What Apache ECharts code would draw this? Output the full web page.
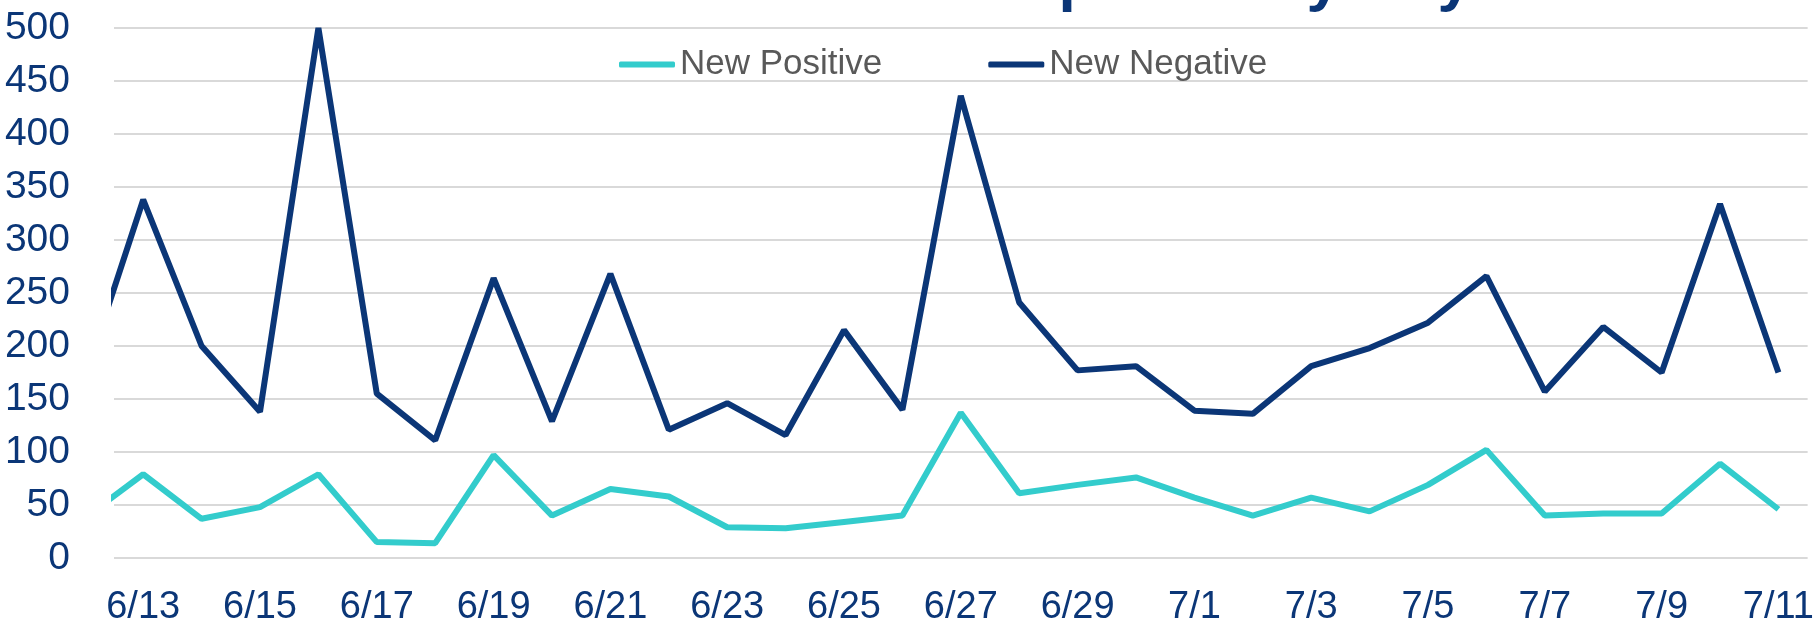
<!DOCTYPE html>
<html>
<head>
<meta charset="utf-8">
<script src="https://cdn.jsdelivr.net/npm/echarts@6/dist/echarts.min.js"></script>
<style>
  html, body { margin: 0; padding: 0; background: #fff; }
  #chart { width: 1817px; height: 627px; }
</style>
</head>
<body>
<div id="chart"></div>
<script>
// day labels, 6/12 is only partly inside the plot (clipped at the left edge)
const days = ['6/12', '6/13', '6/14', '6/15', '6/16', '6/17', '6/18', '6/19', '6/20', '6/21',
  '6/22', '6/23', '6/24', '6/25', '6/26', '6/27', '6/28', '6/29', '6/30', '7/1',
  '7/2', '7/3', '7/4', '7/5', '7/6', '7/7', '7/8', '7/9', '7/10', '7/11'];

const newPositive = [38, 79, 37, 48, 79, 15, 14, 97, 40, 65,
  58, 29, 28, 34, 40, 137, 61, 69, 76, 57,
  40, 57, 44, 69, 102, 40, 42, 42, 89, 46];

const newNegative = [170, 338, 200, 138, 500, 155, 111, 264, 129, 268,
  121, 146, 116, 215, 140, 436, 241, 177, 181, 139,
  136, 181, 198, 222, 266, 157, 218, 175, 334, 175];

// every other day gets a label: 6/13, 6/15 ... 7/11
const labelIdx = [1, 3, 5, 7, 9, 11, 13, 15, 17, 19, 21, 23, 25, 27, 29];

const navy = '#0b3677';
const teal = '#33cccc';
const font = "'Liberation Sans', Arial, sans-serif";

const chart = echarts.init(document.getElementById('chart'));

const option = {
  animation: false,
  title: {
    text: 'Test Results Reported by Day',
    left: 593,
    top: -54,
    textStyle: { color: navy, fontSize: 62, fontWeight: 'bold', fontFamily: font }
  },
  legend: {
    left: 614,
    top: 42,
    icon: 'roundRect',
    itemWidth: 56,
    itemHeight: 6,
    itemGap: 106,
    textStyle: { color: '#595959', fontSize: 35, fontFamily: font },
    data: ['New Positive', 'New Negative']
  },
  grid: {
    left: 114,
    right: 6,
    top: 28,
    bottom: 67,
    containLabel: false
  },
  xAxis: {
    type: 'value',
    min: 0.5,
    max: 29.5,
    axisLine: { show: false },
    axisTick: { show: false },
    splitLine: { show: false },
    axisLabel: {
      customValues: labelIdx,
      formatter: v => days[v],
      color: navy,
      fontSize: 38,
      fontFamily: font,
      margin: 31
    }
  },
  yAxis: {
    type: 'value',
    min: 0,
    max: 500,
    interval: 50,
    axisLine: { show: false },
    axisTick: { show: false },
    axisLabel: {
      color: navy,
      fontSize: 39,
      fontFamily: font,
      margin: 44
    },
    splitLine: {
      lineStyle: { color: '#d9d9d9', width: 2 }
    }
  },
  series: [
    {
      name: 'New Positive',
      type: 'line',
      showSymbol: false,
      clip: true,
      color: teal,
      lineStyle: { color: teal, width: 6 },
      data: newPositive.map((v, i) => [i, v])
    },
    {
      name: 'New Negative',
      type: 'line',
      showSymbol: false,
      clip: true,
      color: navy,
      lineStyle: { color: navy, width: 6 },
      data: newNegative.map((v, i) => [i, v])
    }
  ]
};

chart.setOption(option);
</script>
</body>
</html>
